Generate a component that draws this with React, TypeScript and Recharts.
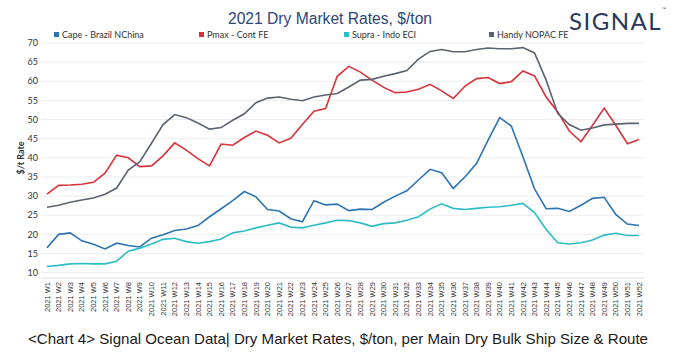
import React from 'react';
import { LineChart, Line, XAxis, YAxis, CartesianGrid } from 'recharts';

const weeks = Array.from({ length: 52 }, (_, i) => `2021 W${i + 1}`);

const cape = [
  16.5, 20.0, 20.4, 18.3, 17.4, 16.2, 17.7, 17.1, 16.7, 19.0, 19.9, 21.0, 21.4, 22.3, 24.6, 26.7,
  28.8, 31.2, 29.8, 26.5, 26.1, 24.1, 23.3, 28.8, 27.7, 27.9, 26.2, 26.6, 26.5, 28.4, 30.0, 31.4,
  34.2, 37.0, 36.1, 32.0, 35.0, 38.5, 44.6, 50.5, 48.3, 40.3, 31.9, 26.7, 26.8, 26.0, 27.6, 29.4,
  29.7, 25.2, 22.7, 22.3,
];

const pmax = [
  30.5, 32.8, 32.9, 33.1, 33.6, 36.0, 40.7, 40.0, 37.7, 37.9, 40.5, 43.9, 42.0, 39.8, 37.9, 43.6,
  43.3, 45.3, 47.0, 45.9, 43.9, 45.1, 48.7, 52.2, 52.9, 61.3, 63.9, 62.4, 60.3, 58.4, 57.0, 57.2,
  57.9, 59.2, 57.5, 55.5, 58.7, 60.7, 61.0, 59.4, 59.9, 62.7, 61.4, 55.9, 52.0, 47.0, 44.2, 48.5,
  53.0, 48.5, 43.7, 44.8,
];

const supra = [
  11.6, 11.9, 12.3, 12.4, 12.3, 12.3, 13.0, 15.6, 16.4, 17.5, 18.7, 19.0, 18.1, 17.7, 18.1, 18.8,
  20.4, 20.9, 21.7, 22.4, 23.0, 21.9, 21.7, 22.4, 23.0, 23.7, 23.6, 23.0, 22.1, 22.8, 23.0, 23.7,
  24.6, 26.6, 28.0, 26.8, 26.5, 26.8, 27.1, 27.2, 27.6, 28.1, 25.7, 21.3, 17.8, 17.5, 17.8, 18.5,
  19.8, 20.3, 19.7, 19.7,
];

const handy = [
  27.1, 27.6, 28.4, 29.0, 29.5, 30.5, 32.1, 36.8, 39.0, 43.8, 48.7, 51.3, 50.5, 49.1, 47.5, 47.9,
  49.8, 51.5, 54.4, 55.6, 55.9, 55.3, 54.9, 55.9, 56.4, 56.8, 58.5, 60.3, 60.5, 61.3, 62.0, 62.8,
  65.8, 67.8, 68.3, 67.7, 67.7, 68.3, 68.7, 68.5, 68.5, 68.8, 67.4, 60.3, 51.6, 48.7, 47.2, 47.8,
  48.6, 48.8, 49.0, 49.0,
];

const yTicks = [10, 15, 20, 25, 30, 35, 40, 45, 50, 55, 60, 65, 70];

const series = [
  { key: 'cape', name: 'Cape - Brazil NChina', color: '#2c74b2', values: cape },
  { key: 'pmax', name: 'Pmax - Cont FE', color: '#d8323b', values: pmax },
  { key: 'supra', name: 'Supra - Indo ECI', color: '#2cbdc6', values: supra },
  { key: 'handy', name: 'Handy NOPAC FE', color: '#5b6370', values: handy },
];

const data = weeks.map((week, i) => {
  const row: Record<string, string | number> = { week };
  series.forEach((s) => {
    row[s.key] = s.values[i];
  });
  return row;
});

const font = '"Liberation Sans", Arial, sans-serif';

const WeekTick = (props: any) => {
  const { x, y, payload } = props;
  return (
    <g transform={`translate(${x},${y})`}>
      <text transform="rotate(-90)" textAnchor="end" dy="0.35em" fontSize={7.5} fill="#333" fontFamily="Liberation Sans, sans-serif">
        {payload.value}
      </text>
    </g>
  );
};

export default function App() {
  return (
    <div style={{ position: 'relative', width: 676, height: 359, background: '#fff', overflow: 'hidden' }}>
      <style>{`body{margin:0}`}</style>
      <svg width={676} height={359} style={{ position: 'absolute', top: 0, left: 0 }}>
        <text x={228} y={24} fontSize={16} fill="#2b4677" fontFamily={font} textLength={204} lengthAdjust="spacingAndGlyphs">
          2021 Dry Market Rates, $/ton
        </text>
        <text x={28} y={344} fontSize={15} fill="#1a1a1a" fontFamily={font} textLength={620} lengthAdjust="spacingAndGlyphs">
          &lt;Chart 4&gt; Signal Ocean Data| Dry Market Rates, $/ton, per Main Dry Bulk Ship Size &amp; Route
        </text>
      </svg>
      <div style={{ position: 'absolute', top: 6, left: 569, fontSize: 24, letterSpacing: 1.5, color: '#27385c', fontFamily: 'Lato, sans-serif' }}>
        SIGNAL<span style={{ fontSize: 5, verticalAlign: 'top', letterSpacing: 0 }}>™</span>
      </div>
      {series.map((s, i) => (
        <div
          key={s.key}
          style={{ position: 'absolute', top: 29, left: 54 + i * 145, display: 'flex', alignItems: 'center', fontSize: 9, color: '#333', fontFamily: 'Lato, sans-serif' }}
        >
          <span style={{ display: 'inline-block', width: 5, height: 5, background: s.color, marginRight: 3 }} />
          {s.name}
        </div>
      ))}
      <div
        style={{ position: 'absolute', left: 20, top: 158, transform: 'translate(-50%,-50%) rotate(-90deg)', fontSize: 9, fontWeight: 'bold', color: '#333', whiteSpace: 'nowrap', fontFamily: 'Lato, sans-serif' }}
      >
        $/t Rate
      </div>
      <div style={{ position: 'absolute', top: 0, left: 0 }}>
        <LineChart width={676} height={322} data={data} margin={{ top: 43, right: 32, left: 0, bottom: 0 }}>
          <CartesianGrid vertical={false} stroke="#ededed" />
          <XAxis
            dataKey="week"
            interval={0}
            padding={{ left: 6, right: 5 }}
            height={44}
            tickLine={false}
            tickSize={4}
            tickMargin={0}
            axisLine={{ stroke: '#e4e4e4' }}
            tick={<WeekTick />}
          />
          <YAxis
            width={41}
            domain={[8.6, 70]}
            ticks={yTicks}
            interval={0}
            axisLine={false}
            tickLine={false}
            tickSize={0}
            tickMargin={3}
            tick={{ fontSize: 9, fill: '#333', fontFamily: 'Lato, sans-serif' }}
          />
          {series.map((s) => (
            <Line
              key={s.key}
              type="linear"
              dataKey={s.key}
              name={s.name}
              stroke={s.color}
              strokeWidth={1.6}
              dot={false}
              isAnimationActive={false}
            />
          ))}
        </LineChart>
      </div>
    </div>
  );
}
